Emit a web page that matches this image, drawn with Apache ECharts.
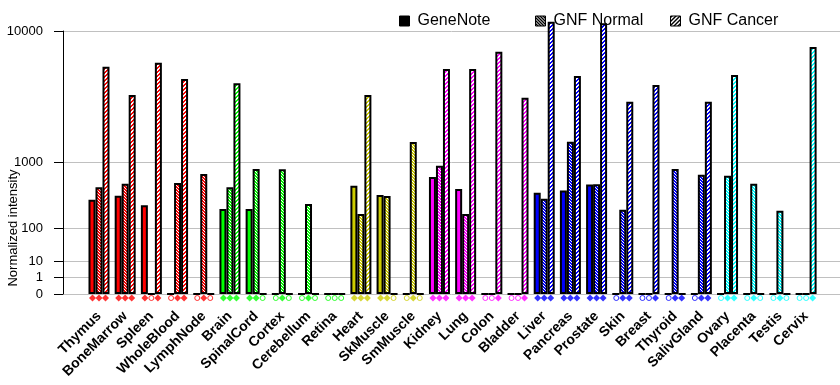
<!DOCTYPE html>
<html><head><meta charset="utf-8">
<script src="https://cdn.jsdelivr.net/npm/echarts@6/dist/echarts.min.js"></script>
<style>html,body{margin:0;padding:0;background:#fff}#c{width:840px;height:385px}</style>
</head><body><div id="c"></div>
<script>
const categories = ['Thymus','BoneMarrow','Spleen','WholeBlood','LymphNode','Brain','SpinalCord','Cortex','Cerebellum','Retina','Heart','SkMuscle','SmMuscle','Kidney','Lung','Colon','Bladder','Liver','Pancreas','Prostate','Skin','Breast','Thyroid','SalivGland','Ovary','Placenta','Testis','Cervix'];
const tissueColors = ['#ff0000','#ff0000','#ff0000','#ff0000','#ff0000',
  '#00ff00','#00ff00','#00ff00','#00ff00','#00ff00',
  '#cccc00','#cccc00','#cccc00',
  '#ff00ff','#ff00ff','#ff00ff','#ff00ff',
  '#0000ff','#0000ff','#0000ff','#0000ff','#0000ff','#0000ff','#0000ff',
  '#00ffff','#00ffff','#00ffff','#00ffff'];
const seriesNames = ['GeneNote','GNF Normal','GNF Cancer'];
const geneNote  = [330, 380, 270, 0, 0, 235, 235, 0, 0, 0, 525, 390, 0, 680, 475, 0, 0, 420, 450, 545, 0, 0, 0, 0, 0, 0, 0, 0];
const gnfNormal = [500, 555, 0, 570, 740, 500, 845, 840, 285, 0, 192, 377, 1620, 920, 192, 0, 0, 343, 1630, 547, 228, 0, 845, 724, 703, 557, 220, 0];
const gnfCancer = [6160, 3960, 6530, 5120, 0, 4790, 0, 0, 0, 0, 3960, 0, 0, 5960, 5960, 7620, 3780, 11220, 5360, 11000, 3535, 4660, 0, 3535, 5440, 0, 0, 8120];
const geneNoteFlag  = [1,1,1,0,0,1,1,0,0,0,1,1,0,1,1,0,0,1,1,1,0,0,0,0,0,0,0,0];
const gnfNormalFlag = [1,1,0,1,1,1,1,1,1,0,1,1,1,1,1,0,0,1,1,1,1,0,1,1,1,1,1,0];
const gnfCancerFlag = [1,1,1,1,0,1,0,0,0,0,1,0,0,1,1,1,1,1,1,1,1,1,1,1,1,0,0,1];
const yTickValues = [0, 1, 10, 100, 1000, 10000];
const yTickLabels = ['0', '1', '10', '100', '1000', '10000'];

const P = Math.log10(2);
const tf = v => v <= 0 ? 0 : Math.pow(v, P);

const cache = {};
function pattern(color, kind) {
  const key = color + kind;
  if (cache[key]) return cache[key];
  const s = kind === 'normal' ? 3 : 4;
  const c = document.createElement('canvas'); c.width = s; c.height = s;
  const ctx = c.getContext('2d');
  ctx.fillStyle = '#fff'; ctx.fillRect(0, 0, s, s);
  ctx.fillStyle = color;
  for (let y = 0; y < s; y++) for (let x = 0; x < s; x++) {
    let on;
    if (kind === 'solid') on = true;
    else if (kind === 'normal') on = ((x - y + s) % s) !== 0;
    else on = ((x + y) % s) < 2;
    if (on) ctx.fillRect(x, y, 1, 1);
  }
  const p = { image: c, repeat: 'repeat' };
  cache[key] = p;
  return p;
}

const kinds = ['solid', 'normal', 'cancer'];
const values = [geneNote, gnfNormal, gnfCancer];
const flags = [geneNoteFlag, gnfNormalFlag, gnfCancerFlag];
const offsets = [-6.5, 0, 6.5];

const L = 85.9, R = 20.8;
const series = [];
for (let s = 0; s < 3; s++) {
  series.push({
    type: 'bar', name: seriesNames[s], xAxisIndex: 1, yAxisIndex: 1,
    barWidth: 7, barGap: '0%', clip: false, silent: true,
    itemStyle: { color: pattern('#000', kinds[s]), borderColor: '#000', borderWidth: 2 },
    data: values[s].map((v, i) => ({ value: tf(v), itemStyle: { color: pattern(tissueColors[i], kinds[s]) } }))
  });
}
for (let s = 0; s < 3; s++) {
  series.push({
    type: 'scatter', name: 'flag' + s, xAxisIndex: 2, yAxisIndex: 2, silent: true, clip: false,
    symbolOffset: [offsets[s], 0],
    data: flags[s].map((f, i) => ({
      value: 0.5,
      symbol: f ? 'diamond' : 'circle',
      symbolSize: f ? 7 : 5,
      itemStyle: f ? { color: tissueColors[i] } : { color: '#fff', borderColor: tissueColors[i], borderWidth: 1 }
    }))
  });
}

const legendLefts = [399, 535, 670];
const legends = seriesNames.map((n, k) => ({
  data: [n], left: legendLefts[k], top: 13, padding: 0, itemWidth: 10, itemHeight: 10,
  icon: 'rect', selectedMode: false,
  itemStyle: { borderColor: '#000', borderWidth: 1 },
  textStyle: { fontSize: 16, color: '#000', padding: [0, 0, 0, 3] }
}));

const chart = echarts.init(document.getElementById('c'), null, { renderer: 'canvas' });
const tickPos = yTickValues.map(tf);
chart.setOption({
  animation: false,
  textStyle: { fontFamily: 'Liberation Sans, Arial, sans-serif' },
  legend: legends,
  graphic: [{
    type: 'text', x: 13, y: 228, rotation: Math.PI / 2,
    style: { text: 'Normalized intensity', fontSize: 13, fill: '#000', align: 'center', verticalAlign: 'middle', fontFamily: 'Liberation Sans, Arial, sans-serif' }
  }],
  grid: [
    { left: 63, right: 0, top: 31, bottom: 91 },
    { left: L, right: R, top: 31, bottom: 91 },
    { left: L, right: R, top: 293, height: 10 }
  ],
  xAxis: [
    { type: 'value', gridIndex: 0, min: 0, max: 1, show: false },
    { type: 'category', gridIndex: 1, data: categories,
      axisLine: { show: false }, axisTick: { show: false },
      axisLabel: { interval: 0, rotate: 45, margin: 20, fontSize: 14, fontWeight: 'bold', color: '#000' } },
    { type: 'category', gridIndex: 2, data: categories, show: false }
  ],
  yAxis: [
    { type: 'value', gridIndex: 0, min: 0, max: 16,
      axisLine: { show: true, lineStyle: { color: '#000', width: 1 } },
      axisTick: { show: true, length: 9, lineStyle: { color: '#000' }, customValues: tickPos },
      axisLabel: { customValues: tickPos, margin: 20, fontSize: 13, color: '#000',
        formatter: v => { const k = tickPos.findIndex(t => Math.abs(t - v) < 1e-6); return k >= 0 ? yTickLabels[k] : ''; } },
      splitLine: { show: true, lineStyle: { color: '#c0c0c0', width: 1 } } },
    { type: 'value', gridIndex: 1, min: 0, max: 16, show: false, splitLine: { show: false } },
    { type: 'value', gridIndex: 2, min: 0, max: 1, show: false }
  ],
  series
});
</script></body></html>
